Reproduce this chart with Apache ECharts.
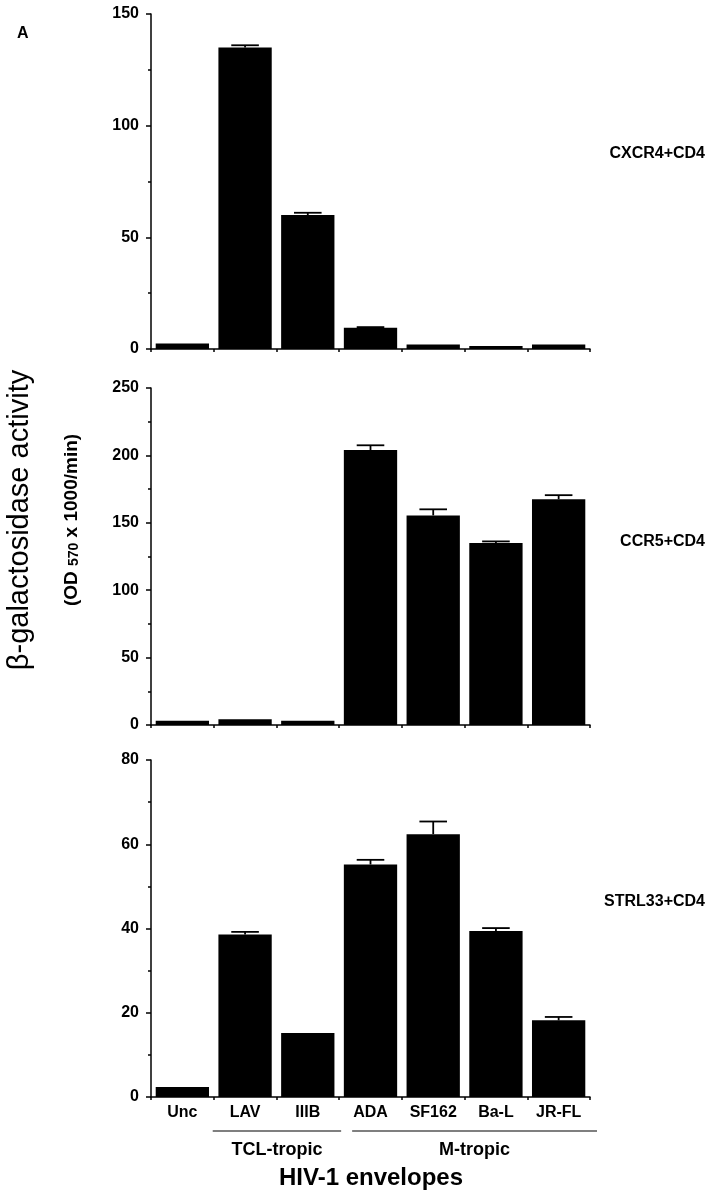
<!DOCTYPE html>
<html>
<head>
<meta charset="utf-8">
<script src="https://cdn.jsdelivr.net/npm/echarts@6/dist/echarts.min.js"></script>
<style>
html,body{margin:0;padding:0;background:#fff;}
#c{width:710px;height:1199px;}
</style>
</head>
<body>
<div id="c"></div>
<script>
// ---- data ----
const categories = ['Unc', 'LAV', 'IIIB', 'ADA', 'SF162', 'Ba-L', 'JR-FL'];
const cxcr4Values = [2.5, 135, 60, 9.5, 2, 1.3, 2];
const cxcr4Errors = [0, 1, 1, 0.3, 0, 0, 0];
const ccr5Values = [3.2, 4.2, 3.2, 204, 155.5, 135, 167.5];
const ccr5Errors = [0, 0, 0, 3.5, 4.5, 1.2, 3];
const strl33Values = [2.4, 38.6, 15.2, 55.2, 62.4, 39.4, 18.2];
const strl33Errors = [0, 0.6, 0, 1.1, 3, 0.7, 0.8];
const panelNames = ['CXCR4+CD4', 'CCR5+CD4', 'STRL33+CD4'];
const yMax = [150, 250, 80];
const yInterval = [50, 50, 20];
const groups = [{ name: 'TCL-tropic', from: 1, to: 2 }, { name: 'M-tropic', from: 3, to: 6 }];

const FONT = '"Liberation Sans", Arial, Helvetica, sans-serif';
const chart = echarts.init(document.getElementById('c'), null, { renderer: 'canvas' });

const grids = [
  { left: 151, right: 120, top: 14, height: 335 },
  { left: 151, right: 120, top: 388, height: 337 },
  { left: 151, right: 120, top: 760, height: 337 }
];
const values = [cxcr4Values, ccr5Values, strl33Values];
const errors = [cxcr4Errors, ccr5Errors, strl33Errors];

const xAxes = grids.map((g, i) => ({
  type: 'category', gridIndex: i, data: categories,
  axisLine: { lineStyle: { color: '#000', width: 1.5 } },
  axisTick: { show: true, length: 3, lineStyle: { color: '#000', width: 1.5 } },
  axisLabel: i === 2 ? { show: true, color: '#000', fontFamily: FONT, fontWeight: 'bold', fontSize: 16, margin: 8 } : { show: false }
}));
const yAxes = grids.map((g, i) => ({
  type: 'value', gridIndex: i, min: 0, max: yMax[i], interval: yInterval[i],
  splitLine: { show: false },
  axisLine: { show: true, lineStyle: { color: '#000', width: 1.5 } },
  axisTick: { show: true, length: 5, lineStyle: { color: '#000', width: 1.5 } },
  minorTick: { show: true, splitNumber: 2, length: 3, lineStyle: { color: '#000', width: 1.5 } },
  axisLabel: { color: '#000', fontFamily: FONT, fontWeight: 'bold', fontSize: 16, margin: 12 }
}));

const series = [];
values.forEach((vals, i) => {
  series.push({
    type: 'bar', xAxisIndex: i, yAxisIndex: i, data: vals,
    barCategoryGap: '15%', itemStyle: { color: '#000' }, silent: true
  });
  series.push({
    type: 'custom', xAxisIndex: i, yAxisIndex: i,
    data: vals.map((v, k) => [k, v, errors[i][k]]),
    z: 3, silent: true,
    renderItem: function (params, api) {
      const idx = api.value(0), v = api.value(1), e = api.value(2);
      if (!e) return null;
      const p0 = api.coord([idx, v]);
      const p1 = api.coord([idx, v + e]);
      const bw = api.size([1, 0])[0];
      const hw = bw * 0.22;
      const st = { stroke: '#000', lineWidth: 1.8 };
      return {
        type: 'group', children: [
          { type: 'line', shape: { x1: p0[0], y1: p0[1], x2: p1[0], y2: p1[1] }, style: st },
          { type: 'line', shape: { x1: p1[0] - hw, y1: p1[1], x2: p1[0] + hw, y2: p1[1] }, style: st }
        ]
      };
    }
  });
});

const graphic = [
  { type: 'text', left: 17, top: 26, style: { text: 'A', font: 'bold 16px ' + FONT, fill: '#000' } },
  { type: 'text', x: 20, y: 520, rotation: Math.PI / 2,
    style: { text: 'β-galactosidase activity', font: '29px ' + FONT, fill: '#000', align: 'center', verticalAlign: 'middle' } },
  { type: 'text', x: 72, y: 520, rotation: Math.PI / 2,
    style: { text: '{a|(OD }{b|570}{a| x 1000/min)}', align: 'center', verticalAlign: 'middle',
      rich: { a: { font: 'bold 19px ' + FONT, fill: '#000' }, b: { font: 'bold 14px ' + FONT, fill: '#000', verticalAlign: 'bottom', padding: [4, 0, 0, 0] } } } },
  { type: 'text', right: 5, top: 146, style: { text: panelNames[0], font: 'bold 16px ' + FONT, fill: '#000' } },
  { type: 'text', right: 5, top: 534, style: { text: panelNames[1], font: 'bold 16px ' + FONT, fill: '#000' } },
  { type: 'text', right: 5, top: 894, style: { text: panelNames[2], font: 'bold 16px ' + FONT, fill: '#000' } },
  { type: 'text', x: 371, y: 1178, style: { text: 'HIV-1 envelopes', font: 'bold 24px ' + FONT, fill: '#000', align: 'center', verticalAlign: 'middle' } }
];

chart.setOption({
  animation: false,
  backgroundColor: '#fff',
  grid: grids,
  xAxis: xAxes,
  yAxis: yAxes,
  series: series,
  graphic: graphic
});

// group brackets computed from the category axis of the bottom panel
const c0 = chart.convertToPixel({ xAxisIndex: 2 }, 0);
const c1 = chart.convertToPixel({ xAxisIndex: 2 }, 1);
const bw = c1 - c0;
const pads = [[-1, 2], [13, 7]];
groups.forEach((g, gi) => {
  const xa = chart.convertToPixel({ xAxisIndex: 2 }, g.from) - bw / 2 + pads[gi][0];
  const xb = chart.convertToPixel({ xAxisIndex: 2 }, g.to) + bw / 2 + pads[gi][1];
  graphic.push({ type: 'line', shape: { x1: xa, y1: 1131, x2: xb, y2: 1131 }, style: { stroke: '#000', lineWidth: 1.2 } });
  graphic.push({ type: 'text', x: (xa + xb) / 2, y: 1150, style: { text: g.name, font: 'bold 18px ' + FONT, fill: '#000', align: 'center', verticalAlign: 'middle' } });
});
chart.setOption({ graphic: graphic });
</script>
</body>
</html>
